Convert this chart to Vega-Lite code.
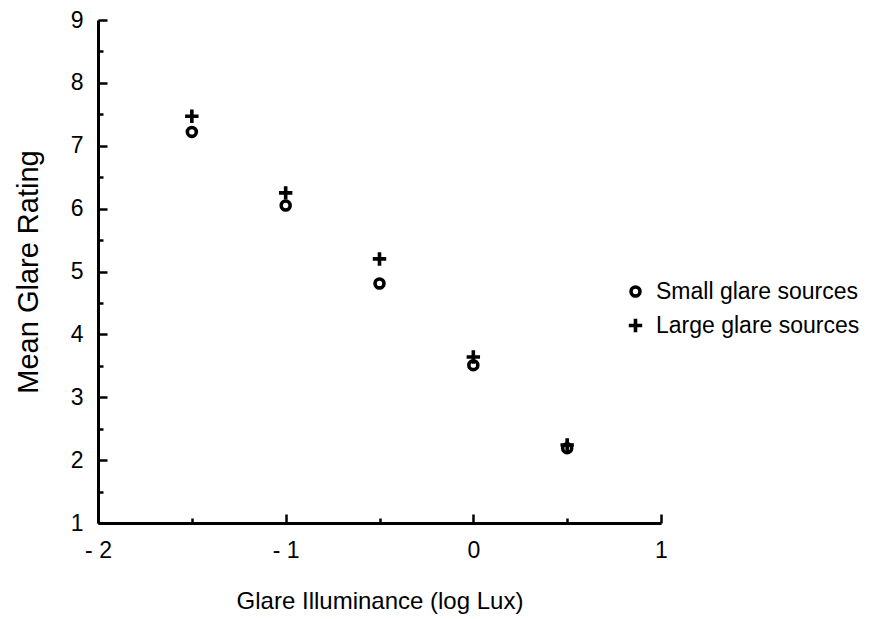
{
  "$schema": "https://vega.github.io/schema/vega-lite/v6.json",
  "width": 563,
  "height": 503,
  "autosize": {"type": "none"},
  "padding": {"left": 98, "top": 20, "right": 208, "bottom": 96},
  "background": "white",
  "config": {"view": {"stroke": null}, "font": "Liberation Sans"},
  "data": {
    "values": [
      {"lux": -1.5, "rating": 7.22, "source": "Small glare sources"},
      {"lux": -1.0, "rating": 6.05, "source": "Small glare sources"},
      {"lux": -0.5, "rating": 4.81, "source": "Small glare sources"},
      {"lux": 0.0, "rating": 3.51, "source": "Small glare sources"},
      {"lux": 0.5, "rating": 2.19, "source": "Small glare sources"},
      {"lux": -1.5, "rating": 7.47, "source": "Large glare sources"},
      {"lux": -1.0, "rating": 6.25, "source": "Large glare sources"},
      {"lux": -0.5, "rating": 5.2, "source": "Large glare sources"},
      {"lux": 0.0, "rating": 3.64, "source": "Large glare sources"},
      {"lux": 0.5, "rating": 2.24, "source": "Large glare sources"}
    ]
  },
  "layer": [
    {
      "mark": {"type": "point", "opacity": 0},
      "encoding": {
        "x": {
          "field": "lux",
          "type": "quantitative",
          "scale": {"domain": [-2, 1], "nice": false, "zero": false},
          "axis": {
            "orient": "bottom",
            "values": [-1.5, -0.5, 0.5],
            "labels": false,
            "domain": false,
            "tickSize": -5,
            "tickWidth": 2.5,
            "tickColor": "black",
            "grid": false,
            "title": null
          }
        },
        "y": {
          "field": "rating",
          "type": "quantitative",
          "scale": {"domain": [1, 9], "nice": false, "zero": false},
          "axis": {
            "orient": "left",
            "values": [1.5, 2.5, 3.5, 4.5, 5.5, 6.5, 7.5, 8.5],
            "labels": false,
            "domain": false,
            "tickSize": -5,
            "tickWidth": 2.5,
            "tickColor": "black",
            "grid": false,
            "title": null
          }
        }
      }
    },
    {
      "mark": {"type": "point", "filled": false, "strokeWidth": 3.6, "size": 80, "opacity": 1, "color": "black"},
      "encoding": {
        "x": {
          "field": "lux",
          "type": "quantitative",
          "axis": {
            "orient": "bottom",
            "values": [-2, -1, 0, 1],
            "labelExpr": "datum.value < 0 ? '- ' + abs(datum.value) : '' + datum.value",
            "tickSize": -9,
            "tickWidth": 2.5,
            "tickColor": "black",
            "domainColor": "black",
            "domainWidth": 3,
            "grid": false,
            "labelFontSize": 23,
            "labelColor": "black",
            "labelPadding": 25,
            "labelFlush": false,
            "title": "Glare Illuminance (log Lux)",
            "titleFontSize": 24,
            "titleFontWeight": "normal",
            "titleColor": "black",
            "titlePadding": 27
          }
        },
        "y": {
          "field": "rating",
          "type": "quantitative",
          "axis": {
            "orient": "left",
            "values": [1, 2, 3, 4, 5, 6, 7, 8, 9],
            "tickSize": -9,
            "tickWidth": 2.5,
            "tickColor": "black",
            "domainColor": "black",
            "domainWidth": 3,
            "grid": false,
            "labelFontSize": 23,
            "labelColor": "black",
            "labelPadding": 24,
            "labelFlush": false,
            "title": "Mean Glare Rating",
            "titleFontSize": 29,
            "titleFontWeight": "normal",
            "titleColor": "black",
            "titlePadding": 27
          }
        },
        "shape": {
          "field": "source",
          "type": "nominal",
          "scale": {
            "domain": ["Small glare sources", "Large glare sources"],
            "range": ["circle", "M-1.5,0H1.5M0,-1.5V1.5"]
          },
          "legend": {
            "title": null,
            "orient": "none",
            "legendX": 526,
            "legendY": 260,
            "labelFontSize": 23,
            "labelColor": "black",
            "labelOffset": 9,
            "labelLimit": 400,
            "symbolSize": 80,
            "symbolStrokeWidth": 3.6,
            "symbolStrokeColor": "black",
            "symbolFillColor": "transparent",
            "rowPadding": 7
          }
        }
      }
    }
  ],
  "resolve": {"axis": {"x": "independent", "y": "independent"}}
}
